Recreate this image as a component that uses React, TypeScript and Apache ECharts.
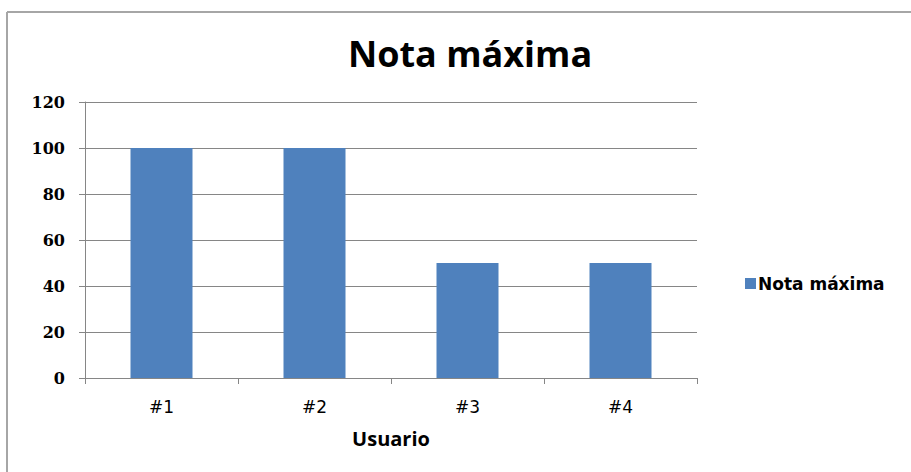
import React, { useEffect, useRef } from "react";
import * as echarts from "echarts";

const categories = ["#1", "#2", "#3", "#4"];
const seriesName = "Nota máxima";
const values = [100, 100, 50, 50];
const yTicks = { min: 0, max: 120, interval: 20 };

export default function App() {
  const ref = useRef<HTMLDivElement>(null);
  useEffect(() => {
    if (!ref.current) return;
    const chart = echarts.init(ref.current, undefined, { renderer: "svg" });
    chart.setOption({
      animation: false,
      backgroundColor: "#ffffff",
      title: {
        text: "Nota máxima",
        left: 465,
        textAlign: "center",
        top: 30,
        textStyle: { fontFamily: "Open Sans", fontWeight: "bold", fontSize: 36, color: "#000" },
      },
      legend: {
        left: 740,
        top: 270,
        icon: "rect",
        itemWidth: 11,
        itemHeight: 11,
        itemGap: 4,
        data: [seriesName],
        textStyle: { fontFamily: "DejaVu Sans", fontWeight: "bold", fontSize: 17, color: "#000", padding: [0, 0, 0, -3] },
      },
      grid: { left: 85, right: 214, top: 102, bottom: 94, containLabel: false },
      xAxis: {
        type: "category",
        data: categories,
        name: "Usuario",
        nameLocation: "middle",
        nameGap: 50,
        nameTextStyle: { fontFamily: "Open Sans", fontWeight: "bold", fontSize: 20, color: "#000" },
        axisLine: { show: true, lineStyle: { color: "#868686", width: 1 } },
        axisTick: { show: true, length: 6, lineStyle: { color: "#868686" } },
        axisLabel: { margin: 20, fontFamily: "DejaVu Sans", fontSize: 17, color: "#000" },
      },
      yAxis: {
        type: "value",
        min: yTicks.min,
        max: yTicks.max,
        interval: yTicks.interval,
        axisLine: { show: true, lineStyle: { color: "#868686", width: 1 } },
        axisTick: { show: true, length: 6, inside: false, lineStyle: { color: "#868686" } },
        splitLine: { show: true, lineStyle: { color: "#868686", width: 1 } },
        axisLabel: { margin: 20, fontFamily: "DejaVu Serif", fontWeight: "bold", fontSize: 16, color: "#000" },
      },
      series: [
        {
          name: seriesName,
          type: "bar",
          data: values,
          barWidth: 62,
          itemStyle: { color: "#4F81BD" },
        },
      ],
      graphic: [
        { type: "line", shape: { x1: 7, y1: 12, x2: 911, y2: 12 }, style: { stroke: "#A6A6A6", lineWidth: 2 } },
        { type: "line", shape: { x1: 7, y1: 12, x2: 7, y2: 472 }, style: { stroke: "#A6A6A6", lineWidth: 2 } },
      ],
    });
    return () => chart.dispose();
  }, []);
  return (
    <div
      ref={ref}
      style={{ position: "absolute", left: 0, top: 0, width: 911, height: 472 }}
    />
  );
}
